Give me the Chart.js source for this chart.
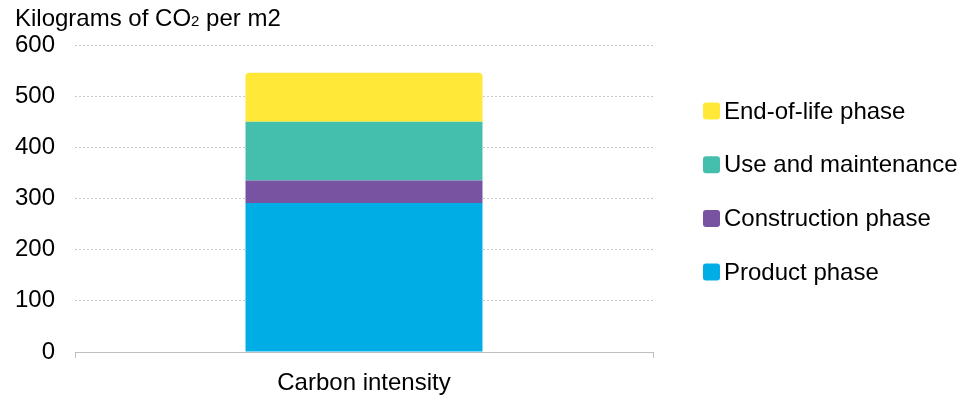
<!DOCTYPE html>
<html>
<head>
<meta charset="utf-8">
<script src="https://cdn.jsdelivr.net/npm/chart.js@4"></script>
<style>
  html, body { margin: 0; padding: 0; background: #ffffff; }
  #wrap { position: relative; width: 965px; height: 396px; }
  #title { position: absolute; left: 15px; top: 5px; font-family: "Liberation Sans", Arial, sans-serif; font-size: 24px; line-height: 26px; color: #000; white-space: nowrap; }
  #title .sub { font-size: 15px; }
  canvas { display: block; }
</style>
</head>
<body>
<div id="wrap">
  <div id="title">Kilograms of CO<span class="sub">2</span> per m2</div>
  <canvas id="c" width="965" height="396"></canvas>
</div>
<script>
const categories = ["Carbon intensity"];
const seriesLabels = ["Product phase", "Construction phase", "Use and maintenance", "End-of-life phase"];
const productPhase = [291];
const constructionPhase = [44];
const useAndMaintenance = [115];
const endOfLifePhase = [96];
const seriesColors = ["#00ADE5", "#7853A2", "#45BFAD", "#FFE838"];
const yTicks = [0, 100, 200, 300, 400, 500, 600];

const FONT = "'Liberation Sans', Arial, sans-serif";
const seriesValues = [productPhase, constructionPhase, useAndMaintenance, endOfLifePhase];

const legendPlugin = {
  id: 'customLegend',
  afterDraw(chart) {
    const ctx = chart.ctx;
    const area = chart.chartArea;
    const ds = chart.data.datasets.slice().reverse();
    const x0 = area.right + 50;
    const yStart = 111;
    const step = 53.7;
    ctx.save();
    ctx.font = "24px " + FONT;
    ctx.textBaseline = 'middle';
    ctx.textAlign = 'left';
    ds.forEach((d, i) => {
      const yc = yStart + i * step;
      ctx.fillStyle = d.backgroundColor;
      ctx.beginPath();
      if (ctx.roundRect) ctx.roundRect(x0, yc - 8.5, 17, 17, 3); else ctx.rect(x0, yc - 8.5, 17, 17);
      ctx.fill();
      ctx.fillStyle = '#000000';
      ctx.fillText(d.label, x0 + 21, yc + 1);
    });
    ctx.restore();
  }
};

new Chart(document.getElementById('c'), {
  type: 'bar',
  data: {
    labels: categories,
    datasets: seriesLabels.map((lab, i) => ({
      label: lab,
      data: seriesValues[i],
      backgroundColor: seriesColors[i],
      borderWidth: 0,
      borderRadius: 4,
      borderSkipped: 'start',
      barPercentage: 0.41,
      categoryPercentage: 1.0
    }))
  },
  options: {
    responsive: false,
    animation: false,
    devicePixelRatio: 1,
    layout: { padding: { left: 13, right: 312, top: 45, bottom: 0 } },
    plugins: {
      legend: { display: false },
      tooltip: { enabled: false },
      title: { display: false }
    },
    scales: {
      x: {
        stacked: true,
        offset: true,
        afterFit(scale) { scale.paddingLeft = 0; scale.paddingRight = 0; scale.height = 44; },
        grid: {
          offset: true,
          drawOnChartArea: false,
          drawTicks: true,
          tickLength: 6,
          color: '#bfbfbf'
        },
        border: { display: true, color: '#bfbfbf', width: 1 },
        ticks: { color: '#000000', font: { family: FONT, size: 24 }, padding: 11 }
      },
      y: {
        stacked: true,
        min: 0,
        max: 600,
        afterBuildTicks(scale) { scale.ticks = yTicks.map(v => ({ value: v })); },
        afterFit(scale) { scale.paddingTop = 0; scale.paddingBottom = 0; scale.width = 62; },
        grid: {
          drawTicks: false,
          color: '#c8c8c8',
          lineWidth: 1
        },
        border: { display: false, dash: [2, 2] },
        ticks: { color: '#000000', font: { family: FONT, size: 24 }, padding: 20 }
      }
    }
  },
  plugins: [legendPlugin]
});
</script>
</body>
</html>
